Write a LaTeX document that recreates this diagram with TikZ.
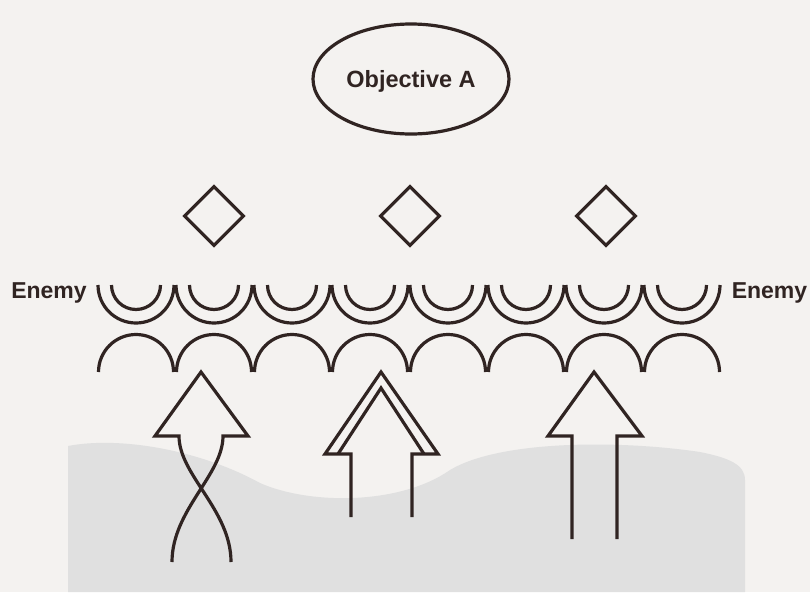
\documentclass[tikz,border=0pt]{standalone}
\usepackage{fontspec}
\setmainfont{Liberation Sans}
\usetikzlibrary{shapes.geometric}
\definecolor{ink}{RGB}{48,36,34}
\definecolor{paper}{RGB}{244,242,240}
\definecolor{scangrey}{RGB}{224,224,224}
\tikzset{
  mark shape/.style={draw=ink, line width=3.2pt},
  diam/.style={mark shape, diamond, aspect=1, inner sep=0pt, minimum width=60pt, minimum height=60pt},
  objell/.style={mark shape, ellipse, inner sep=0pt, minimum width=196pt, minimum height=110pt,
     text=ink, font=\fontsize{23.5}{28}\selectfont\bfseries, text height=17pt, text depth=0pt},
  enemylabel/.style={text=ink, font=\fontsize{23}{27}\selectfont\bfseries, inner sep=0pt},
  inkline/.style={draw=ink, line width=3.2pt, line join=miter},
}
\begin{document}
\begin{tikzpicture}[x=1pt,y=1pt]
\fill[paper] (0,0) rectangle (810,-592);
\useasboundingbox (0,0) rectangle (810,-592);
% scanned grey shading
\fill[scangrey] (68,-592) -- (68,-446) .. controls (120,-436) and (200,-450) .. (260,-483)
  .. controls (310,-505) and (400,-505) .. (450,-470)
  .. controls (500,-440) and (620,-440) .. (700,-452)
  .. controls (730,-458) and (745,-465) .. (745,-480) -- (745,-592) -- cycle;

% objective
\node[objell] (obj) at (411,-79) {Objective A};

% diamonds
\node[diam] (d1) at (214,-216) {};
\node[diam] (d2) at (410,-216) {};
\node[diam] (d3) at (606,-216) {};

% enemy labels
\node[enemylabel, anchor=base] (enemyL) at (49,-298) {Enemy};
\node[enemylabel, anchor=base] (enemyR) at (769.5,-298) {Enemy};

% enemy line of arcs
\foreach \i in {0,...,7}{
  \pgfmathsetmacro\c{136+78*\i}
  \draw[inkline] (\c-38,-285) arc[start angle=180,end angle=360,radius=38pt];
  \draw[inkline] (\c-24.5,-285) arc[start angle=180,end angle=360,radius=24.5pt];
  \draw[inkline] (\c-37.5,-372) arc[start angle=180,end angle=0,radius=37.5pt];
}

% arrow 1 (crossed shaft)
\draw[inkline] (231,-562) .. controls (231,-510) and (179,-475) .. (179,-436)
  -- (155,-436) -- (201,-372) -- (248,-436) -- (223,-436)
  .. controls (223,-475) and (172,-510) .. (172,-562);

% arrow 2 (double head)
\draw[inkline] (351,-517) -- (351,-454) -- (325,-454) -- (381,-372) -- (438,-454) -- (412,-454) -- (412,-517);
\draw[inkline] (338,-454) -- (381,-388) -- (424,-454);

% arrow 3
\draw[inkline] (572,-539) -- (572,-436) -- (548,-436) -- (594,-372) -- (642,-436) -- (617,-436) -- (617,-539);
\end{tikzpicture}
\end{document}
